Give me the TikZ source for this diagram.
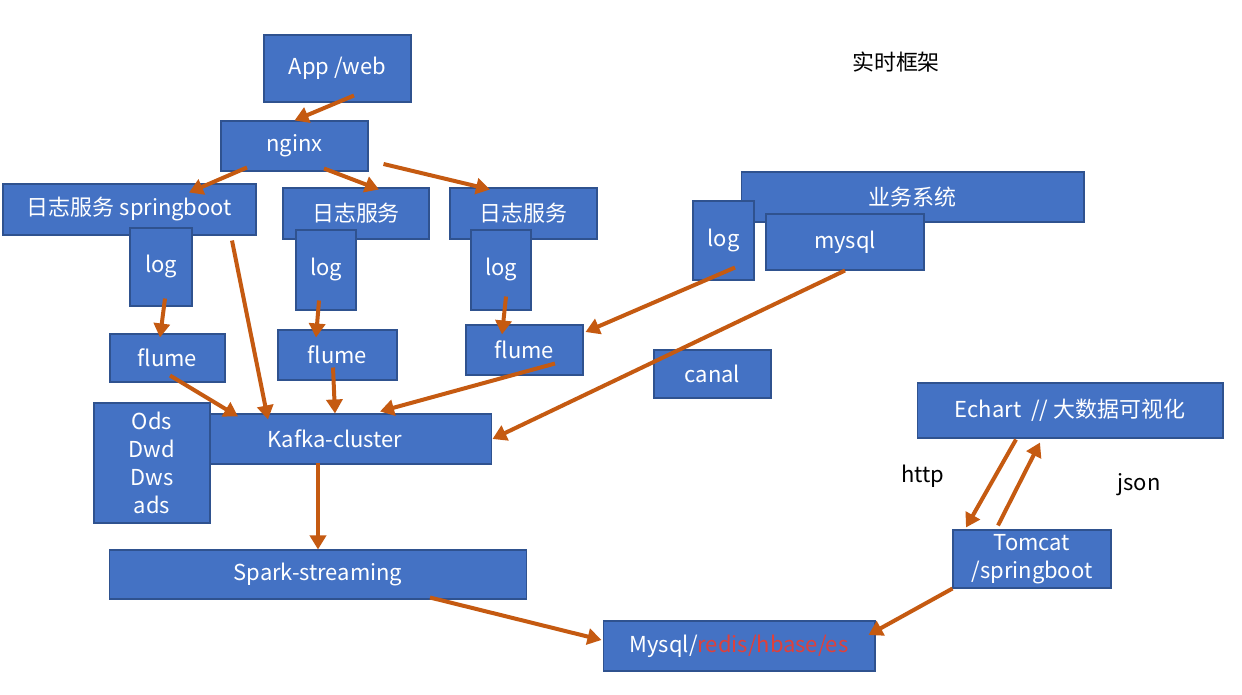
\documentclass[tikz,border=0pt]{standalone}
\usepackage{fontspec}
\setmainfont{Noto Sans CJK SC}
\usepackage{xcolor}
\usepackage{tikz}
\usetikzlibrary{arrows.meta}
\definecolor{boxblue}{HTML}{4472C4}
\definecolor{boxline}{HTML}{2F528F}
\definecolor{flowcol}{HTML}{C55A11}
\definecolor{storered}{HTML}{E0403A}
\tikzstyle{box}   = [rectangle, draw=boxline, line width=0.6pt, fill=boxblue,
                     text=white, align=center, inner sep=2pt,
                     font=\fontsize{12.5}{16}\selectfont]
\tikzstyle{flow}  = [draw=flowcol, line width=0.08cm,
                     -{Triangle[length=0.28cm, width=0.32cm]}]
\tikzstyle{note}  = [text=black, font=\fontsize{12.5}{16}\selectfont]

\begin{document}
\begin{tikzpicture}[x=0.02cm, y=-0.02cm]
  \useasboundingbox[fill=white] (0,0) rectangle (1242,695);

  % collection side
  \node[box, minimum width=2.94cm, minimum height=1.34cm] (app)   at (337.5,68.5) {App /web};
  \node[box, minimum width=2.94cm, minimum height=1.00cm] (nginx) at (294.5,146)  {nginx};
  \node[box, minimum width=5.06cm, minimum height=1.02cm] (svcA)  at (129.5,209.5) {日志服务 springboot};
  \node[box, minimum width=2.92cm, minimum height=1.02cm] (svcB)  at (356,213.5)  {日志服务};
  \node[box, minimum width=2.94cm, minimum height=1.02cm] (svcC)  at (523.5,213.5) {日志服务};
  \node[box, minimum width=1.24cm, minimum height=1.56cm] (logA)  at (161,267)    {log};
  \node[box, minimum width=1.20cm, minimum height=1.60cm] (logB)  at (326,270)    {log};
  \node[box, minimum width=1.20cm, minimum height=1.60cm] (logC)  at (501,270)    {log};
  \node[box, minimum width=2.30cm, minimum height=0.96cm] (flumeA) at (167.5,358) {flume};
  \node[box, minimum width=2.38cm, minimum height=1.00cm] (flumeB) at (337.5,355) {flume};
  \node[box, minimum width=2.34cm, minimum height=1.00cm] (flumeC) at (524.5,350) {flume};

  % business system
  \node[box, minimum width=6.86cm, minimum height=1.00cm] (biz)   at (912.5,197)  {业务系统};
  \node[box, minimum width=1.22cm, minimum height=1.58cm] (logD)  at (723.5,240.5) {log};
  \node[box, minimum width=3.16cm, minimum height=1.12cm] (mysql) at (845,242)    {mysql};
  \node[box, minimum width=2.34cm, minimum height=0.96cm] (canal) at (712.5,374)  {canal};

  % processing
  \node[box, minimum width=6.28cm, minimum height=1.00cm] (kafka) at (335,439)    {Kafka-cluster};
  \node[box, minimum width=2.32cm, minimum height=2.40cm] (layers) at (152,463)   {Ods\\Dwd\\Dws\\ads};
  \node[box, minimum width=8.36cm, minimum height=0.98cm] (spark) at (318,574.5)  {Spark-streaming};
  \node[box, minimum width=5.44cm, minimum height=1.00cm] (store) at (739,646)
        {Mysql/\textcolor{storered}{redis/hbase/es}};

  % serving
  \node[box, minimum width=6.12cm, minimum height=1.10cm] (echart) at (1070,410.5) {Echart\ \ // 大数据可视化};
  \node[box, minimum width=3.16cm, minimum height=1.16cm] (tomcat) at (1032,559)
        {Tomcat\\/springboot};

  \node[note] (title) at (896,62)  {实时框架};
  \node[note] (http)  at (923,476) {http};
  \node[note] (json)  at (1139,485) {json};

  \draw[flow] ([shift={(16.5,-7)}]app.south)    -- (nginx.north);
  \draw[flow] ([shift={(-47.5,-4)}]nginx.south) -- ([shift={(59.5,9)}]svcA.north);
  \draw[flow] ([shift={(29.5,-3)}]nginx.south)  -- ([shift={(23,2)}]svcB.north);
  \draw[flow] ([shift={(15,18)}]nginx.east)     -- ([shift={(-33.5,2)}]svcC.north);
  \draw[flow] ([shift={(4,-8)}]logA.south)      -- ([shift={(-7.5,4)}]flumeA.north);
  \draw[flow] ([shift={(-7,-10)}]logB.south)    -- ([shift={(-21.5,8)}]flumeB.north);
  \draw[flow] ([shift={(5,-14)}]logC.south)     -- ([shift={(-22.5,10)}]flumeC.north);
  \draw[flow] ([shift={(102.5,5)}]svcA.south)   -- ([shift={(-67,6)}]kafka.north);
  \draw[flow] ([shift={(2.5,-7)}]flumeA.south)  -- ([shift={(-97,3)}]kafka.north);
  \draw[flow] ([shift={(-4.5,-13)}]flumeB.south) -- (kafka.north);
  \draw[flow] ([shift={(30.5,-12)}]flumeC.south) -- ([shift={(45,-2)}]kafka.north);
  \draw[flow] ([shift={(11.5,-13)}]logD.south)  -- ([shift={(2,-18)}]flumeC.east);
  \draw[flow] (mysql.south)                     -- (kafka.east);
  \draw[flow] ([shift={(-17,-2)}]kafka.south)   -- (spark.north);
  \draw[flow] ([shift={(112,-2)}]spark.south)   -- ([shift={(-1,-6)}]store.west);
  \draw[flow] (tomcat.south west)               -- ([shift={(-7,-11)}]store.east);
  \draw[flow] ([shift={(-54,1)}]echart.south)   -- ([shift={(-66,-2)}]tomcat.north);
  \draw[flow] ([shift={(-34,-4)}]tomcat.north)  -- ([shift={(-30,4)}]echart.south);
\end{tikzpicture}
\end{document}
